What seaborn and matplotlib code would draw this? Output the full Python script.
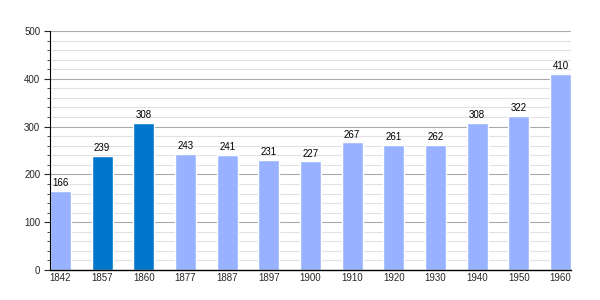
import matplotlib
matplotlib.use("Agg")
import matplotlib.pyplot as plt
import seaborn as sns
import pandas as pd
from matplotlib.ticker import MultipleLocator

years = ["1842", "1857", "1860", "1877", "1887", "1897", "1900", "1910", "1920", "1930", "1940", "1950", "1960"]
population = [166, 239, 308, 243, 241, 231, 227, 267, 261, 262, 308, 322, 410]
highlight = ["n", "y", "y", "n", "n", "n", "n", "n", "n", "n", "n", "n", "n"]

df = pd.DataFrame({"year": years, "pop": population, "hl": highlight})

sns.set_style("white")
plt.rcParams['font.family'] = ['Liberation Sans', 'DejaVu Sans']

fig = plt.figure(figsize=(6, 3), dpi=100)
ax = fig.add_axes([50/600, 30/300, 521/600, 239/300])

# grid
for v in range(20, 501, 20):
    if v % 100 == 0:
        ax.axhline(v, color="#aaaaaa", lw=0.8, zorder=0)
    else:
        ax.axhline(v, color="#e2e2e2", lw=0.8, zorder=0)

sns.barplot(data=df, x="year", y="pop", hue="hl", palette={"n": "#99b2ff", "y": "#0077cc"},
            width=0.5, dodge=False, legend=False, ax=ax, zorder=2, saturation=1)

for i, v in enumerate(population):
    ax.text(i, v + 6, str(v), ha="center", va="bottom", fontsize=7, color="black")

ax.set_xlim(-0.25, 12.25)
ax.set_ylim(0, 500)
ax.yaxis.set_major_locator(MultipleLocator(100))
ax.yaxis.set_minor_locator(MultipleLocator(20))
ax.tick_params(axis="y", which="major", length=4, width=0.8, labelsize=7, pad=3, left=True)
ax.tick_params(axis="y", which="minor", length=2, width=0.6, left=True)
ax.tick_params(axis="x", length=0, labelsize=7, pad=2)
ax.set_xlabel("")
ax.set_ylabel("")
for s in ["top", "right"]:
    ax.spines[s].set_visible(False)
ax.spines["left"].set_color("black")
ax.spines["bottom"].set_color("black")
ax.spines["left"].set_linewidth(0.8)
ax.spines["bottom"].set_linewidth(1.0)

fig.savefig("out.png", dpi=100)
